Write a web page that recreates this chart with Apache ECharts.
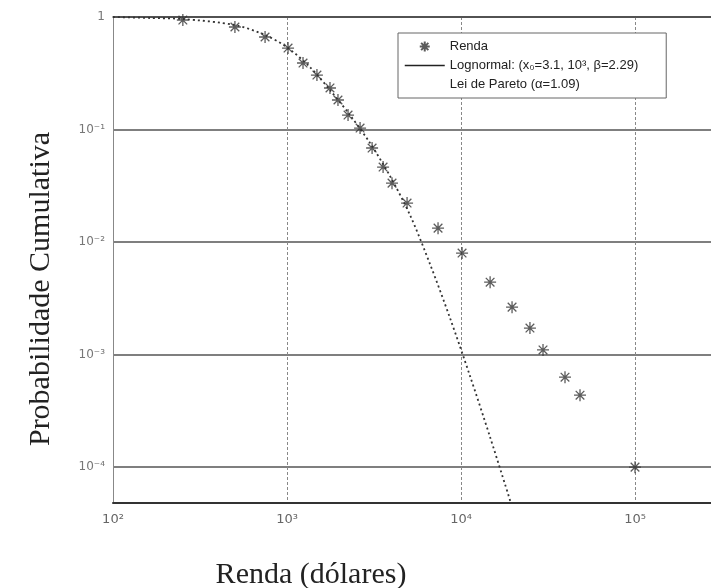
<!DOCTYPE html>
<html lang="pt">
<head>
    <meta charset="UTF-8">
    <title>Probabilidade Cumulativa</title>
    <script src="https://cdn.jsdelivr.net/npm/echarts@6/dist/echarts.min.js"></script>
    <style>
        html, body { margin: 0; padding: 0; background: #fff; }
        #main { width: 711px; height: 588px; }
    </style>
</head>
<body>
<div id="main"></div>
<script>
    // pontos da renda (asteriscos)
    const rendaX = [252, 502, 748, 1014, 1236, 1486, 1766, 1963, 2243, 2630, 3083, 3566, 4013,
        4898, 7380, 10140, 14700, 19650, 24900, 29600, 39600, 48300, 100000];
    const rendaY = [0.94, 0.815, 0.664, 0.53, 0.39, 0.305, 0.234, 0.183, 0.1345, 0.103, 0.0685,
        0.0464, 0.0334, 0.0222, 0.0133, 0.00798, 0.0044, 0.00264, 0.00172, 0.0011, 0.00063,
        0.000436, 0.0001];

    // curva lognormal (pontilhada)
    const lognX = [100, 163, 252, 502, 748, 1014, 1355, 1766, 2301, 2999, 3908, 5093, 6637,
        8650, 11270, 14690, 19360];
    const lognY = [1.0, 0.98, 0.96, 0.849, 0.692, 0.53, 0.359, 0.2245, 0.1345, 0.0759, 0.0386,
        0.01738, 0.00637, 0.00211, 0.000644, 0.000185, 0.0000479];

    const legendNames = ['Renda', 'Lognormal: (x\u2080=3.1, 10\u00b3, \u03b2=2.29)', 'Lei de Pareto (\u03b1=1.09)'];

    // rótulos dos eixos, por expoente
    const xTickLabels = {2: '10\u00b2', 3: '10\u00b3', 4: '10\u2074', 5: '10\u2075'};
    const yTickLabels = {'-4': '10\u207b\u2074', '-3': '10\u207b\u00b3', '-2': '10\u207b\u00b2', '-1': '10\u207b\u00b9', '0': '1'};

    const xMin = 100, xMax = 329000;
    const yMin = 0.000048, yMax = 1;

    function pairs(xs, ys) {
        return xs.map((x, i) => [x, ys[i]]);
    }

    function powerLabel(table) {
        return function (v) {
            const e = Math.log10(v);
            const r = Math.round(e);
            if (Math.abs(e - r) > 1e-6) return '';
            return table[r] || '';
        };
    }

    const star = 'path://M0,-5L0,5M-5,0L5,0M-3.6,-3.6L3.6,3.6M-3.6,3.6L3.6,-3.6';

    const chart = echarts.init(document.getElementById('main'));

    chart.setOption({
        backgroundColor: '#fff',
        animation: false,
        grid: {
            left: 113, top: 17, right: -14, bottom: 85, show: false,
            outerBoundsMode: 'none', containLabel: false
        },
        legend: {
            orient: 'vertical',
            left: 398, top: 33,
            padding: [7, 28, 7, 6],
            itemGap: 6,
            itemWidth: 40,
            itemHeight: 10,
            borderColor: '#666',
            borderWidth: 1,
            backgroundColor: '#fff',
            textStyle: {fontFamily: 'Liberation Sans', fontSize: 13, color: '#222'},
            data: [
                {name: legendNames[0]},
                {
                    name: legendNames[1],
                    itemStyle: {opacity: 0},
                    lineStyle: {type: 'solid', color: '#222', width: 1.5}
                },
                {name: legendNames[2], icon: 'none'}
            ]
        },
        xAxis: [
            {
                type: 'log', logBase: 10,
                min: xMin, max: xMax,
                axisLine: {show: true, lineStyle: {color: '#333', width: 2}},
                axisTick: {show: false},
                minorTick: {show: false},
                axisLabel: {
                    formatter: powerLabel(xTickLabels),
                    color: '#666', fontSize: 13, fontFamily: 'DejaVu Sans', margin: 10
                },
                splitLine: {show: true, lineStyle: {color: '#888', width: 1, type: [3, 2]}}
            },
            {
                // borda superior do quadro
                type: 'log', logBase: 10, position: 'top',
                min: xMin, max: xMax,
                axisLine: {show: true, lineStyle: {color: '#444', width: 1.5}},
                axisTick: {show: false},
                axisLabel: {show: false},
                splitLine: {show: false}
            }
        ],
        yAxis: {
            type: 'log', logBase: 10,
            min: yMin, max: yMax,
            axisLine: {show: true, lineStyle: {color: '#888', width: 1}},
            axisTick: {show: false},
            minorTick: {show: false},
            axisLabel: {
                formatter: powerLabel(yTickLabels),
                color: '#777', fontSize: 12, fontFamily: 'DejaVu Sans', margin: 8
            },
            splitLine: {show: true, lineStyle: {color: '#555', width: 1.5}}
        },
        graphic: [
            {
                type: 'text', x: 311, y: 575,
                style: {
                    text: 'Renda (dólares)', fill: '#222',
                    font: '30px "Liberation Serif"', align: 'center', verticalAlign: 'middle'
                }
            },
            {
                type: 'text', x: 41, y: 289, rotation: Math.PI / 2,
                style: {
                    text: 'Probabilidade Cumulativa', fill: '#222',
                    font: '30px "Liberation Serif"', align: 'center', verticalAlign: 'middle'
                }
            }
        ],
        series: [
            {
                name: legendNames[0],
                type: 'scatter',
                data: pairs(rendaX, rendaY),
                symbol: star,
                symbolSize: 12,
                itemStyle: {color: 'rgba(0,0,0,0)', borderColor: '#333', borderWidth: 1.3},
                z: 3
            },
            {
                name: legendNames[1],
                type: 'line',
                data: pairs(lognX, lognY),
                symbol: 'none',
                smooth: 0.3,
                lineStyle: {color: '#333', width: 1.8, type: [2, 3]},
                z: 2
            },
            {
                name: legendNames[2],
                type: 'line',
                data: [],
                symbol: 'none',
                lineStyle: {color: '#fff', width: 0}
            }
        ]
    });
</script>
</body>
</html>
